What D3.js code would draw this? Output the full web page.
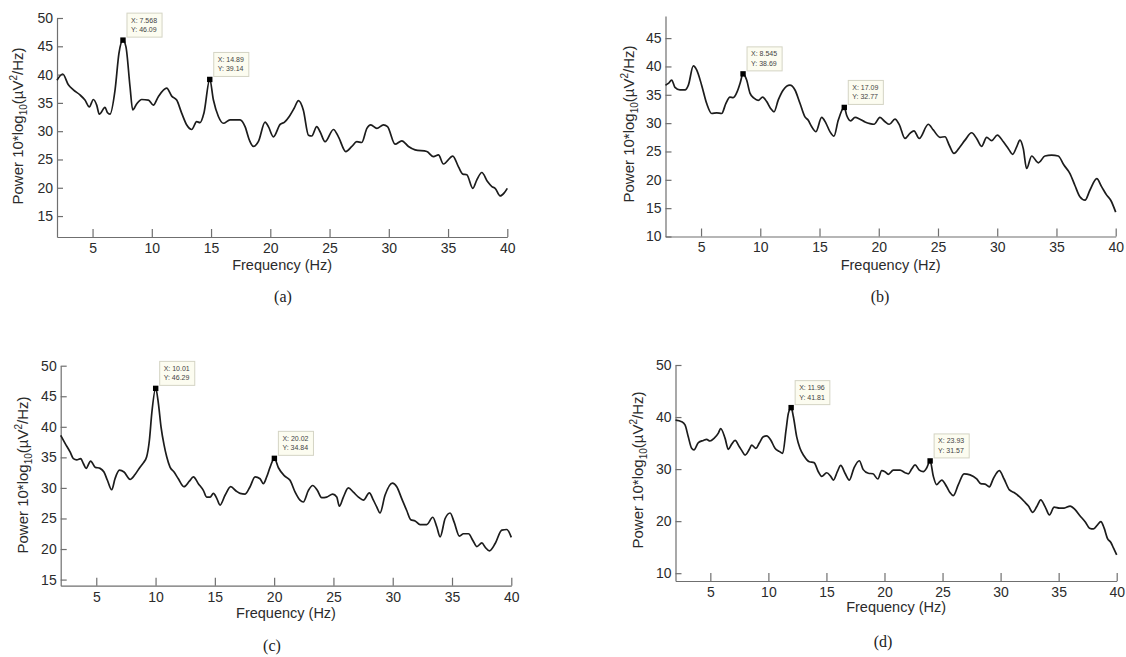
<!DOCTYPE html>
<html><head><meta charset="utf-8">
<script src="https://cdn.jsdelivr.net/npm/d3@7"></script>
<style>
body{margin:0;background:#fff}
svg{display:block}
text{font-family:"Liberation Sans",Arial,sans-serif}
</style>
</head><body>
<svg id="chart" width="1126" height="657"></svg>
<script>
// ---------------- data ----------------
const xTicks = [5, 10, 15, 20, 25, 30, 35, 40];

const freqA  = [2.0,2.48,2.96,3.38,3.94,4.36,4.73,5.07,5.35,5.57,6.05,6.25,6.47,6.9,7.23,7.568,7.82,8.16,8.39,8.72,9.15,9.71,10.13,10.55,11.26,11.68,12.1,12.52,12.95,13.37,13.79,14.07,14.4,14.89,15.2,15.62,16.04,16.6,17.45,17.87,18.24,18.57,19.0,19.56,19.84,20.26,20.83,21.2,21.6,22.0,22.38,22.79,23.22,23.5,23.92,24.2,24.62,25.33,25.75,26.37,26.88,27.3,27.72,28.15,28.48,28.99,29.55,29.89,30.53,31.1,31.66,32.22,33.21,33.77,34.19,34.61,35.4,35.88,36.25,36.58,37.09,37.43,37.85,38.33,38.7,38.97,39.4,39.74,40.0];
const powerA = [39.0,40.1,38.2,37.3,36.4,35.5,34.3,35.6,34.6,33.0,34.2,33.3,33.0,37.3,43.8,46.09,44.9,37.9,33.75,34.8,35.6,35.5,34.6,36.1,37.6,36.2,35.5,33.2,31.1,30.3,31.7,31.5,33.2,39.14,35.5,32.6,31.4,32.0,32.0,30.8,28.4,27.3,28.2,31.6,30.8,29.0,31.2,31.6,32.6,34.0,35.4,33.7,29.3,29.15,30.8,29.9,28.15,30.3,29.0,26.4,27.3,28.15,28.0,30.5,31.1,30.5,31.1,30.8,27.7,28.3,27.3,26.7,26.4,25.5,25.8,24.2,25.6,23.7,22.4,22.3,19.9,21.4,22.7,21.1,20.2,19.9,18.55,19.1,19.9];
const peakFreqA  = [7.568, 14.89];
const peakPowerA = [46.09, 39.14];
const yTicksA = [15, 20, 25, 30, 35, 40, 45, 50];

const freqB  = [2.0,2.24,2.52,2.8,3.22,3.65,3.93,4.35,4.63,5.05,5.47,5.9,6.32,6.74,7.1,7.44,7.72,8.06,8.29,8.545,8.85,9.13,9.47,9.83,10.2,10.54,10.87,11.16,11.52,11.94,12.5,12.93,13.35,13.77,14.05,14.33,14.7,15.18,15.54,15.88,16.22,16.58,17.09,17.29,17.63,18.0,18.41,18.84,19.26,19.6,20.1,20.53,20.89,21.37,21.74,22.21,22.63,22.97,23.42,24.18,24.6,25.17,25.59,25.95,26.35,26.85,27.28,27.84,28.26,28.68,29.11,29.53,30.01,30.52,30.94,31.3,31.64,31.92,32.2,32.48,32.91,33.47,34.03,34.59,35.15,35.63,36.14,36.56,36.98,37.41,37.83,38.4,38.82,39.24,39.58,40.0];
const powerB = [36.7,37.0,37.6,36.3,35.85,35.85,36.7,40.1,39.4,36.7,33.5,31.7,31.8,31.7,33.5,34.6,34.5,35.6,37.0,38.69,37.6,35.3,34.4,34.0,34.6,33.8,32.6,32.0,34.1,35.85,36.7,35.85,33.5,31.1,30.5,29.4,28.5,31.0,30.0,28.5,27.7,30.5,32.77,31.4,30.4,31.0,30.7,30.2,29.9,29.8,31.0,30.25,29.8,30.7,29.7,27.3,28.2,28.65,27.3,29.8,28.8,27.5,27.6,26.1,24.65,25.8,27.0,28.3,27.3,25.9,27.5,26.9,27.9,26.7,25.5,24.5,25.8,27.0,25.5,22.0,24.2,23.0,24.2,24.35,24.2,22.6,21.1,19.0,17.0,16.4,18.2,20.2,18.75,17.3,16.4,14.3];
const peakFreqB  = [8.545, 17.09];
const peakPowerB = [38.69, 32.77];
const yTicksB = [10, 15, 20, 25, 30, 35, 40, 45];

const freqC  = [2.0,2.37,2.79,3.07,3.35,3.69,3.91,4.14,4.53,4.9,5.32,5.65,5.94,6.3,6.58,6.95,7.34,7.85,8.27,8.69,8.97,9.25,9.48,9.68,10.01,10.24,10.46,10.72,10.94,11.22,11.56,11.92,12.4,12.85,13.19,13.61,14.03,14.31,14.6,14.88,15.16,15.44,15.86,16.34,16.79,17.13,17.55,17.97,18.39,18.81,19.09,19.37,19.66,20.02,20.36,20.85,21.34,21.77,22.18,22.46,22.89,23.25,23.64,24.01,24.43,24.94,25.28,25.5,25.84,26.26,26.68,27.11,27.53,28.03,28.37,28.65,28.93,29.35,29.97,30.34,30.76,31.18,31.52,31.89,32.31,32.87,33.38,33.72,34.0,34.42,34.84,35.18,35.63,35.97,36.39,36.76,37.09,37.52,37.8,38.16,38.64,39.2,39.62,40.0];
const powerC = [38.6,37.3,35.9,34.8,34.6,34.8,34.0,33.2,34.4,33.4,33.2,32.6,31.25,29.7,31.5,32.9,32.6,31.4,32.2,33.4,34.1,35.1,37.8,42.2,46.29,43.8,40.0,37.0,35.1,33.4,32.6,31.5,30.2,31.1,31.8,30.7,29.6,28.5,28.5,29.1,28.3,27.2,28.8,30.2,29.5,29.1,29.0,30.2,31.8,31.5,30.7,31.8,33.4,34.84,33.3,32.0,31.25,29.3,28.0,27.7,29.6,30.4,29.6,28.4,28.5,29.0,28.5,27.0,28.5,30.0,29.3,28.5,28.0,29.2,28.0,26.9,25.9,28.8,30.8,30.2,28.25,26.3,24.8,24.6,24.0,24.0,25.2,23.6,22.0,25.0,25.9,24.4,22.1,22.5,22.5,21.4,20.4,21.0,20.3,19.7,20.9,23.1,23.2,21.9];
const peakFreqC  = [10.01, 20.02];
const peakPowerC = [46.29, 34.84];
const yTicksC = [15, 20, 25, 30, 35, 40, 45, 50];

const freqD  = [2.0,2.53,2.82,3.1,3.39,3.59,3.97,4.4,4.68,4.97,5.32,5.69,5.89,6.27,6.55,6.84,7.13,7.5,7.7,7.99,8.36,8.56,8.93,9.22,9.56,9.85,10.2,10.57,10.94,11.23,11.52,11.72,11.96,12.15,12.44,12.72,13.07,13.53,13.93,14.3,14.59,15.02,15.37,15.6,15.94,16.23,16.6,16.97,17.37,17.83,18.17,18.61,19.0,19.43,19.76,20.04,20.33,20.76,21.34,21.77,22.05,22.34,22.63,23.0,23.35,23.63,23.93,24.21,24.49,24.93,25.36,25.64,25.93,26.36,26.85,27.37,27.94,28.29,28.66,29.03,29.38,29.89,30.3,30.76,31.16,31.62,32.11,32.4,32.77,33.12,33.46,33.83,34.21,34.61,35.07,35.47,35.99,36.42,36.85,37.28,37.66,38.0,38.35,38.63,38.92,39.2,39.5,39.73,40.0];
const powerD = [39.4,39.1,38.5,36.2,34.0,33.7,35.1,35.5,35.7,35.4,35.9,36.9,37.8,35.9,33.8,34.8,35.5,34.3,33.6,32.7,33.8,34.6,34.0,35.0,36.2,36.4,35.6,34.0,33.4,33.0,37.5,40.7,41.81,40.1,36.2,34.0,32.5,31.4,31.25,29.5,28.6,29.3,28.6,27.9,29.5,30.7,29.2,27.9,30.2,31.6,29.9,29.2,29.1,28.1,29.7,29.5,29.0,29.8,29.8,29.3,29.1,30.0,30.8,29.8,29.5,30.2,31.57,28.6,27.0,27.9,26.6,25.5,24.9,27.0,29.1,28.9,28.1,27.2,27.1,26.6,28.2,29.7,28.1,26.0,25.5,24.7,23.6,22.9,21.7,22.8,24.1,22.8,21.2,22.7,22.5,22.5,22.9,22.2,21.0,19.9,18.65,18.5,19.3,19.9,18.65,16.7,15.9,14.8,13.5];
const peakFreqD  = [11.96, 23.93];
const peakPowerD = [41.81, 31.57];
const yTicksD = [10, 20, 30, 40, 50];

const captions = ["(a)", "(b)", "(c)", "(d)"];

// ---------------- layout ----------------
const panels = [
  {f: freqA, p: powerA, pf: peakFreqA, pp: peakPowerA, yt: yTicksA, cap: captions[0],
   xr: [57, 507.3], yd: [11.3, 50], yr: [237, 18], yl: [18, 126], xly: 270, capPos: [283, 302]},
  {f: freqB, p: powerB, pf: peakFreqB, pp: peakPowerB, yt: yTicksB, cap: captions[1],
   xr: [665.5, 1115.7], yd: [10, 48.9], yr: [236.5, 16], yl: [629, 124], xly: 270, capPos: [880, 302]},
  {f: freqC, p: powerC, pf: peakFreqC, pp: peakPowerC, yt: yTicksC, cap: captions[2],
   xr: [60.7, 511.3], yd: [14, 50], yr: [585.7, 365.7], yl: [23, 475], xly: 618, capPos: [272, 651]},
  {f: freqD, p: powerD, pf: peakFreqD, pp: peakPowerD, yt: yTicksD, cap: captions[3],
   xr: [675.5, 1116.7], yd: [8.5, 50], yr: [581, 365], yl: [638, 470], xly: 612, capPos: [883, 647]}
];

const svg = d3.select("#chart");
const axisColor = "#6f6f6f";
const textColor = "#2b2b2b";
const fmt = d3.format(".4");

panels.forEach(P => {
  const x = d3.scaleLinear().domain([2, 40]).range(P.xr);
  const y = d3.scaleLinear().domain(P.yd).range(P.yr);
  const g = svg.append("g");

  // x axis
  const gx = g.append("g").attr("transform", `translate(0,${P.yr[0]})`)
    .call(d3.axisBottom(x).tickValues(xTicks).tickSizeInner(-8).tickSizeOuter(0).tickPadding(6).tickFormat(d3.format("d")));
  // y axis
  const gy = g.append("g").attr("transform", `translate(${P.xr[0]},0)`)
    .call(d3.axisLeft(y).tickValues(P.yt).tickSizeInner(-6).tickSizeOuter(0).tickPadding(4).tickFormat(d3.format("d")));
  [gx, gy].forEach(a => {
    a.select(".domain").attr("stroke", axisColor).attr("stroke-width", 1.2);
    a.selectAll(".tick line").attr("stroke", axisColor).attr("stroke-width", 1.2);
    a.selectAll(".tick text").attr("fill", textColor).style("font-size", "14px");
  });

  // curve
  const pts = P.f.map((fv, i) => [fv, P.p[i]]);
  g.append("path").datum(pts)
    .attr("fill", "none").attr("stroke", "#1c1c1c").attr("stroke-width", 1.7)
    .attr("stroke-linejoin", "round")
    .attr("d", d3.line().x(d => x(d[0])).y(d => y(d[1])).curve(d3.curveMonotoneX));

  // data tips
  P.pf.forEach((fv, i) => {
    const mx = x(fv), my = y(P.pp[i]);
    g.append("rect").attr("x", mx - 2.7).attr("y", my - 2.7).attr("width", 5.4).attr("height", 5.4).attr("fill", "#000");
    const bx = mx + 4, bh = 24, by = my - 3 - bh;
    const box = g.append("rect").attr("x", bx).attr("y", by).attr("height", bh)
      .attr("fill", "#fcfcf0").attr("stroke", "#d4d4c4").attr("stroke-width", 1);
    const t1 = g.append("text").attr("x", bx + 4).attr("y", by + 9.5).attr("fill", "#444").style("font-size", "7px").text("X: " + fmt(fv));
    const t2 = g.append("text").attr("x", bx + 4).attr("y", by + 19).attr("fill", "#444").style("font-size", "7px").text("Y: " + fmt(P.pp[i]));
    const w = Math.max(t1.node().getComputedTextLength(), t2.node().getComputedTextLength()) + 9;
    box.attr("width", w);
  });

  // x label
  g.append("text").attr("x", (P.xr[0] + P.xr[1]) / 2).attr("y", P.xly)
    .attr("text-anchor", "middle").attr("fill", textColor).style("font-size", "14.5px").text("Frequency (Hz)");

  // y label
  const yl = g.append("text").attr("transform", `translate(${P.yl[0] + 5},${P.yl[1]}) rotate(-90)`)
    .attr("text-anchor", "middle").attr("fill", textColor).style("font-size", "15px");
  yl.append("tspan").text("Power 10*log");
  yl.append("tspan").attr("dy", 4).style("font-size", "10px").text("10");
  yl.append("tspan").attr("dy", -4).text("(\u00B5V");
  yl.append("tspan").attr("dy", -6).style("font-size", "10px").text("2");
  yl.append("tspan").attr("dy", 6).text("/Hz)");

  // caption
  svg.append("text").attr("x", P.capPos[0]).attr("y", P.capPos[1])
    .attr("text-anchor", "middle").attr("fill", "#222")
    .style("font-family", "'Liberation Serif','Times New Roman',serif").style("font-size", "16px").text(P.cap);
});
</script>
</body></html>
